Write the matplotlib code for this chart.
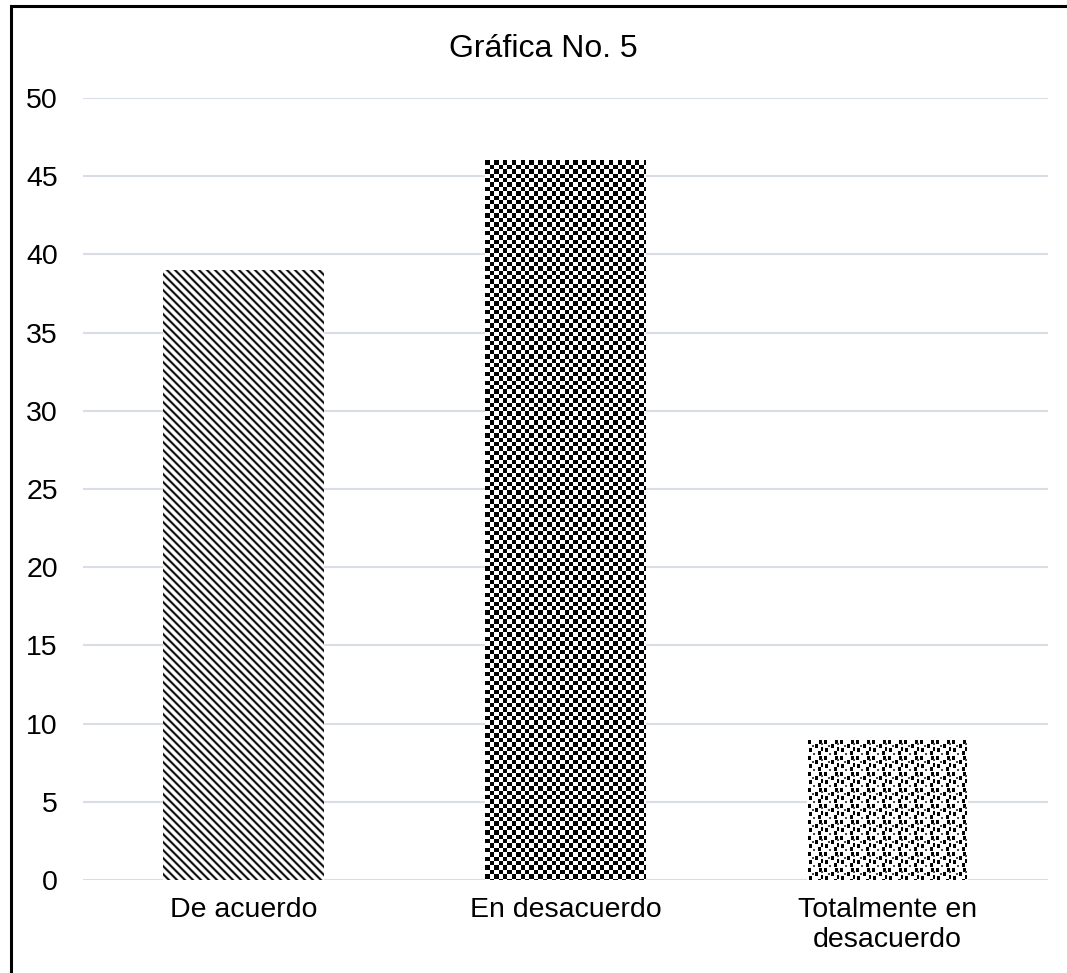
import numpy as np
import matplotlib
matplotlib.use('Agg')
import matplotlib.pyplot as plt
from matplotlib.patches import Rectangle

plt.rcParams['font.family'] = ['Liberation Sans', 'DejaVu Sans']

categories = ['De acuerdo', 'En desacuerdo', 'Totalmente en\ndesacuerdo']
values = [39, 46, 9]
yticks = [0, 5, 10, 15, 20, 25, 30, 35, 40, 45, 50]
title = 'Gráfica No. 5'

W, H = 1067, 973
fig = plt.figure(figsize=(W / 100, H / 100), dpi=100)
ax = fig.add_axes([83 / W, 1 - 880 / H, (1048 - 83) / W, (880 - 98) / H])

bars = ax.bar(range(len(categories)), values, width=0.5, facecolor='none',
              edgecolor='none', zorder=3)
ax.set_xlim(-0.5, len(categories) - 0.5)
ax.set_ylim(0, 50)
ax.set_yticks(yticks)
ax.set_xticks(range(len(categories)))
ax.set_xticklabels(categories, fontsize=20.5, linespacing=1.2)
ax.tick_params(axis='y', length=0, pad=18, labelsize=20.5)
ax.tick_params(axis='x', length=0, pad=12)
for s in ax.spines.values():
    s.set_visible(False)
ax.grid(axis='y', color='#d9dde6', linewidth=1.5, zorder=0)
ax.set_axisbelow(True)


# fill patterns, one per bar
def stripes(r, c):
    v = 0.5 + 0.5 * np.cos(2 * np.pi * (c - r) / 8.0)
    return np.clip(v * 1.6, 0, 1)


def checker(r, c):
    return ((np.floor(r / 4.4) + np.floor(c / 4.4)) % 2).astype(float)


def dots(r, c):
    rr = r % 16
    cc = c % 16
    out = np.ones_like(r, dtype=float)
    for (a, b) in [(1, 1), (5, 8), (9, 2), (12, 11), (1, 12), (8, 14)]:
        m = (rr >= a) & (rr < a + 4) & (cc >= b) & (cc < b + 3)
        out[m] = 0.0
    for (a, b) in [(6, 5), (14, 6), (4, 14)]:
        m = (rr >= a) & (rr < a + 2) & (cc >= b) & (cc < b + 2)
        out[m] = 0.3
    return out


patterns = [stripes, checker, dots]

fig.canvas.draw()
for bar, fn in zip(bars, patterns):
    bb = bar.get_window_extent()
    w = max(int(round(bb.width)), 1)
    h = max(int(round(bb.height)), 1)
    r, c = np.mgrid[0:h, 0:w]
    img = fn(r, c)
    x0, y0 = bar.get_x(), bar.get_y()
    ax.imshow(img, cmap='gray', vmin=0, vmax=1, interpolation='nearest',
              extent=[x0, x0 + bar.get_width(), y0, y0 + bar.get_height()],
              aspect='auto', zorder=3, origin='upper')
ax.set_xlim(-0.5, len(categories) - 0.5)
ax.set_ylim(0, 50)

fig.text(543 / W, 1 - 57 / H, title, ha='center', va='baseline', fontsize=23)

# outer frame (right and bottom edges fall outside the picture)
fig.patches.append(Rectangle((11 / W, -0.1), 2, 1.1 - 6 / H, transform=fig.transFigure,
                             fill=False, edgecolor='black', linewidth=2.2))

fig.savefig('out.png', dpi=100)
